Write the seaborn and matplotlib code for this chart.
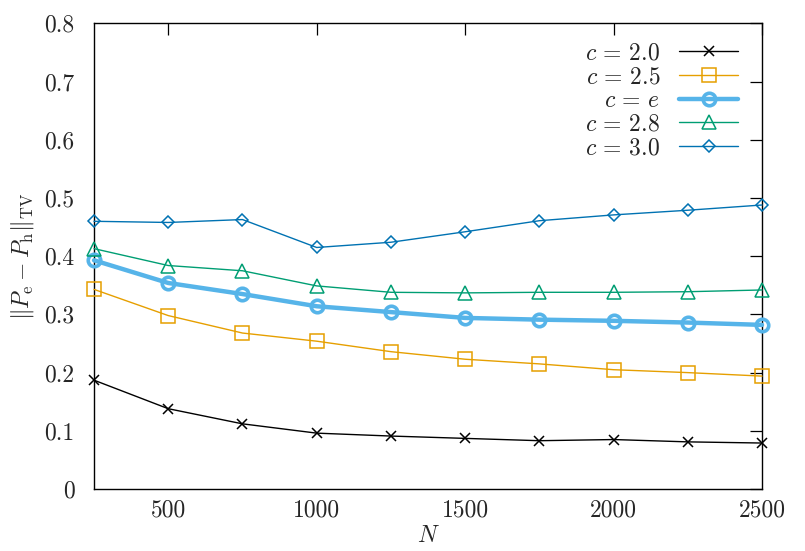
import matplotlib
matplotlib.use("Agg")
import matplotlib.pyplot as plt
import seaborn as sns

# sample sizes
N = [250, 500, 750, 1000, 1250, 1500, 1750, 2000, 2250, 2500]

# TV distance for each c
tv_c20 = [0.187, 0.138, 0.112, 0.096, 0.091, 0.087, 0.083, 0.085, 0.081, 0.079]
tv_c25 = [0.343, 0.298, 0.268, 0.254, 0.236, 0.223, 0.215, 0.205, 0.200, 0.194]
tv_ce = [0.393, 0.354, 0.335, 0.314, 0.304, 0.294, 0.291, 0.289, 0.286, 0.282]
tv_c28 = [0.413, 0.384, 0.375, 0.349, 0.338, 0.337, 0.338, 0.338, 0.339, 0.342]
tv_c30 = [0.460, 0.458, 0.463, 0.415, 0.424, 0.442, 0.461, 0.471, 0.479, 0.488]

labels = [r'$c\,=\,2.0$', r'$c\,=\,2.5$', r'$c\,=\,e$', r'$c\,=\,2.8$', r'$c\,=\,3.0$']

x_ticks = [500, 1000, 1500, 2000, 2500]
y_ticks = [0, 0.1, 0.2, 0.3, 0.4, 0.5, 0.6, 0.7, 0.8]
y_ticklabels = ['0', '0.1', '0.2', '0.3', '0.4', '0.5', '0.6', '0.7', '0.8']

sns.set_style('white')
plt.rcParams['font.family'] = 'serif'
plt.rcParams['font.serif'] = ['cmr10', 'DejaVu Serif']
plt.rcParams['mathtext.fontset'] = 'cm'
plt.rcParams['axes.formatter.use_mathtext'] = True

FS = 17

styles = [
    dict(color='#000000', marker='x', lw=1.0, ms=7.5, mew=1.1),
    dict(color='#E69F00', marker='s', lw=1.0, ms=10, mew=1.1),
    dict(color='#56B4E9', marker='o', lw=3.2, ms=9, mew=2.6),
    dict(color='#009E73', marker='^', lw=1.0, ms=9.5, mew=1.1),
    dict(color='#0072B2', marker='D', lw=1.0, ms=6.3, mew=1.1),
]

f = plt.figure(figsize=(8.05, 5.51), dpi=100)
ax = f.add_axes([0.1168, 0.1125, 0.8298, 0.845])

for vals, lab, st in zip([tv_c20, tv_c25, tv_ce, tv_c28, tv_c30], labels, styles):
    sns.lineplot(x=N, y=vals, ax=ax, label=lab, color=st['color'],
                 marker=st['marker'], linewidth=st['lw'], markersize=st['ms'],
                 markeredgewidth=st['mew'], markeredgecolor=st['color'],
                 markerfacecolor='none', clip_on=False, zorder=3)

ax.set_xlim(250, 2500)
ax.set_ylim(0, 0.8)
ax.set_xticks(x_ticks)
ax.set_xticklabels([str(t) for t in x_ticks], fontsize=FS)
ax.set_yticks(y_ticks)
ax.set_yticklabels(y_ticklabels, fontsize=FS)
ax.tick_params(direction='in', length=8.5, width=0.9, top=True, right=True,
               color='black')
ax.tick_params(axis='x', pad=7.5)
ax.tick_params(axis='y', pad=14)

for s in ax.spines.values():
    s.set_visible(True)
    s.set_color('black')
    s.set_linewidth(1.0)

ax.set_xlabel('$N$', fontsize=FS, labelpad=2.5)
ax.set_ylabel(r'$\Vert P_{\mathrm{e}} - P_{\mathrm{h}}\Vert_{\mathrm{TV}}$',
              fontsize=FS, labelpad=6)

ax.legend(loc='upper right', bbox_to_anchor=(0.982, 0.985), frameon=False,
          markerfirst=False, fontsize=FS, handlelength=2.5,
          handletextpad=0.8, labelspacing=0.07, borderpad=0)

f.savefig('out.png', dpi=100)
plt.close('all')
